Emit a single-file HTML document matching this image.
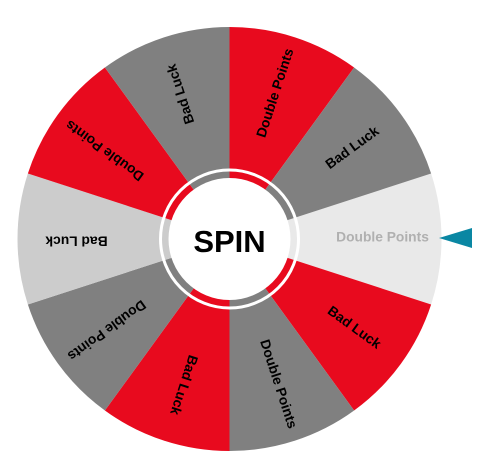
<!DOCTYPE html>
<html><head><meta charset="utf-8"><style>
html,body{margin:0;padding:0;background:#fff;width:484px;height:474px;overflow:hidden}
svg{display:block}
text{font-family:"Liberation Sans",Arial,sans-serif;font-weight:bold}
</style></head><body>
<svg id="wheel" width="484" height="474" viewBox="0 0 484 474" xmlns="http://www.w3.org/2000/svg">
<g id="segs"></g>
<circle cx="229.5" cy="239" r="69" fill="none" stroke="#fff" stroke-width="3"/>
<circle cx="229.5" cy="239" r="61" fill="#fff"/>
<text x="229.5" y="252" text-anchor="middle" font-size="31" fill="#000">SPIN</text>
<polygon points="439,238 472,228 472,248" fill="#0a87a3"/>
</svg>
<script>
const labels=["Double Points","Bad Luck","Double Points","Bad Luck","Double Points","Bad Luck","Double Points","Bad Luck","Double Points","Bad Luck"];
const fills=["#e9e9e9","#e80a1e","#808080","#e80a1e","#808080","#cccccc","#e80a1e","#808080","#e80a1e","#808080"];
const textColors=["#b0b0b0","#000","#000","#000","#000","#000","#000","#000","#000","#000"];
const cx=229.5,cy=239,R=212,TR=153,NS="http://www.w3.org/2000/svg";
const g=document.getElementById('segs');
const step=360/labels.length;
labels.forEach((lab,i)=>{
  const a=i*step, a0=(a-step/2)*Math.PI/180, a1=(a+step/2)*Math.PI/180;
  const p=document.createElementNS(NS,'path');
  p.setAttribute('d',`M${cx},${cy} L${cx+R*Math.cos(a0)},${cy+R*Math.sin(a0)} A${R},${R} 0 0 1 ${cx+R*Math.cos(a1)},${cy+R*Math.sin(a1)} Z`);
  p.setAttribute('fill',fills[i]);
  
  
  g.appendChild(p);
  const t=document.createElementNS(NS,'text');
  t.setAttribute('x',cx+TR);t.setAttribute('y',cy-1);
  t.setAttribute('text-anchor','middle');t.setAttribute('dominant-baseline','middle');
  t.setAttribute('font-size','13.8');t.setAttribute('fill',textColors[i]);
  t.setAttribute('transform',`rotate(${a} ${cx} ${cy})`);
  t.textContent=lab;
  
  
  g.appendChild(t);
});
</script>
</body></html>
